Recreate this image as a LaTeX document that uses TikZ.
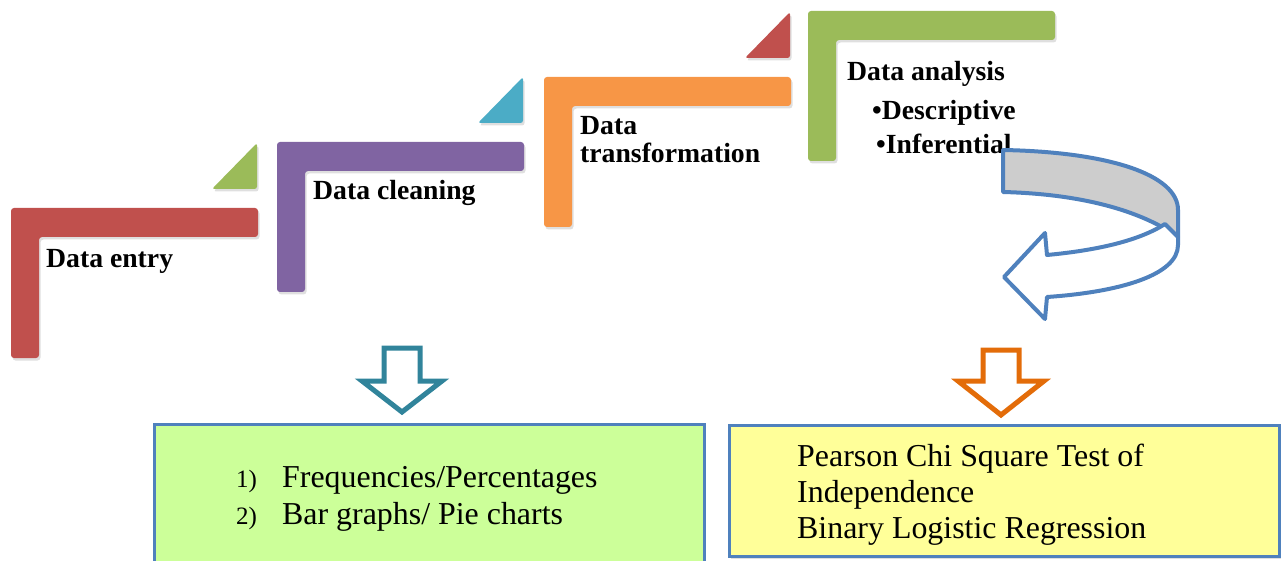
\documentclass[tikz,border=0pt]{standalone}
\usepackage{fontspec}
\setmainfont{Liberation Serif}
\usetikzlibrary{shadows}
\definecolor{cred}{HTML}{C0504D}
\definecolor{cgreen}{HTML}{9BBB59}
\definecolor{cpurple}{HTML}{8064A2}
\definecolor{ccyan}{HTML}{4BACC6}
\definecolor{corange}{HTML}{F79646}
\definecolor{arrowblue}{HTML}{4F81BD}
\definecolor{tealc}{HTML}{31849B}
\definecolor{darkorange}{HTML}{E36C09}
\definecolor{boxgreen}{HTML}{CCFF99}
\definecolor{boxyellow}{HTML}{FFFF99}
\definecolor{bandgray}{HTML}{CDCDCD}
\begin{document}
\begin{tikzpicture}[x=1pt,y=-1pt,
  lshape/.style={fill=#1, rounded corners=3pt, drop shadow={shadow xshift=1.5pt, shadow yshift=-2.5pt, opacity=0.25}},
  tri/.style={fill=#1, rounded corners=2.5pt, drop shadow={shadow xshift=1.5pt, shadow yshift=-2.5pt, opacity=0.25}},
  steplabel/.style={anchor=base west, inner sep=0pt, font=\fontsize{27.7}{28}\selectfont\bfseries, align=left},
  boxtext/.style={anchor=base west, inner sep=0pt, font=\fontsize{31.9}{36}\selectfont},
  numtext/.style={anchor=base west, inner sep=0pt, font=\fontsize{25}{30}\selectfont},
  downarrow/.style={draw=#1, line width=5pt, fill=white, miter limit=10},
  resultbox/.style={draw=arrowblue, line width=2.5pt, fill=#1, inner sep=0pt, anchor=north west,
    drop shadow={shadow xshift=2pt, shadow yshift=-3pt, opacity=0.25}},
  curved/.style={draw=arrowblue, line width=4pt, line join=round}
]
\useasboundingbox (0,0) rectangle (1285,561);

% L shaped steps and small triangles
\foreach \x/\y/\c in {11/208/cred, 277/142/cpurple, 544/77/corange, 808/11/cgreen}{
  \path[lshape=\c] (\x,\y) -- ++(247,0) -- ++(0,29) -- ++(-219,0) -- ++(0,121) -- ++(-28,0) -- cycle;
}
\foreach \x/\y/\c in {11/208/cgreen, 277/142/ccyan, 544/77/cred}{
  \path[tri=\c] (\x+246,\y-65) -- ++(0,46) -- ++(-45,0) -- cycle;
}

% step labels
\node[steplabel] (entry) at (46,268) {Data entry};
\node[steplabel] (clean) at (313,200) {Data cleaning};
\node[steplabel] (trans1) at (580,135) {Data};
\node[steplabel] (trans2) at (580,163) {transformation};
\node[steplabel] (anal) at (847,81) {Data analysis};
\node[steplabel] (desc) at (872,120) {\textbullet Descriptive};
\node[steplabel] (infer) at (876,154) {\textbullet Inferential};

% curved arrow (back band)
\draw[curved, fill=bandgray] (1003,150) .. controls (1110,152) and (1178,175) .. (1178,210)
  -- (1178,237) .. controls (1140,210) and (1080,194) .. (1003,192) -- cycle;
% curved arrow (front part with head)
\draw[curved, fill=white] (1165,224) .. controls (1140,240) and (1100,250) .. (1047,255)
  -- (1045,233) -- (1004,277) -- (1045,319) -- (1047,297)
  .. controls (1120,292) and (1178,275) .. (1178,245) -- (1178,237) -- cycle;

% down arrows
\draw[downarrow=tealc] (384,348) -- (420,348) -- (420,381) -- (442,381) -- (402,412)
  -- (362,381) -- (384,381) -- cycle;
\draw[downarrow=darkorange] (983,350) -- (1019,350) -- (1019,381) -- (1044,381) -- (1001,415)
  -- (958,381) -- (983,381) -- cycle;

% result boxes
\node[resultbox=boxgreen, minimum width=550pt, minimum height=160pt] (gbox) at (153,423) {};
\node[resultbox=boxyellow, minimum width=550pt, minimum height=131pt] (ybox) at (728,424) {};

\node[numtext] (n1) at (236,487) {1)};
\node[boxtext] (f1) at (282,487) {Frequencies/Percentages};
\node[numtext] (n2) at (236,524) {2)};
\node[boxtext] (f2) at (282,524) {Bar graphs/ Pie charts};

\node[boxtext] (p1) at (797,466) {Pearson Chi Square Test of};
\node[boxtext] (p2) at (797,502) {Independence};
\node[boxtext] (p3) at (797,538) {Binary Logistic Regression};
\end{tikzpicture}
\end{document}
